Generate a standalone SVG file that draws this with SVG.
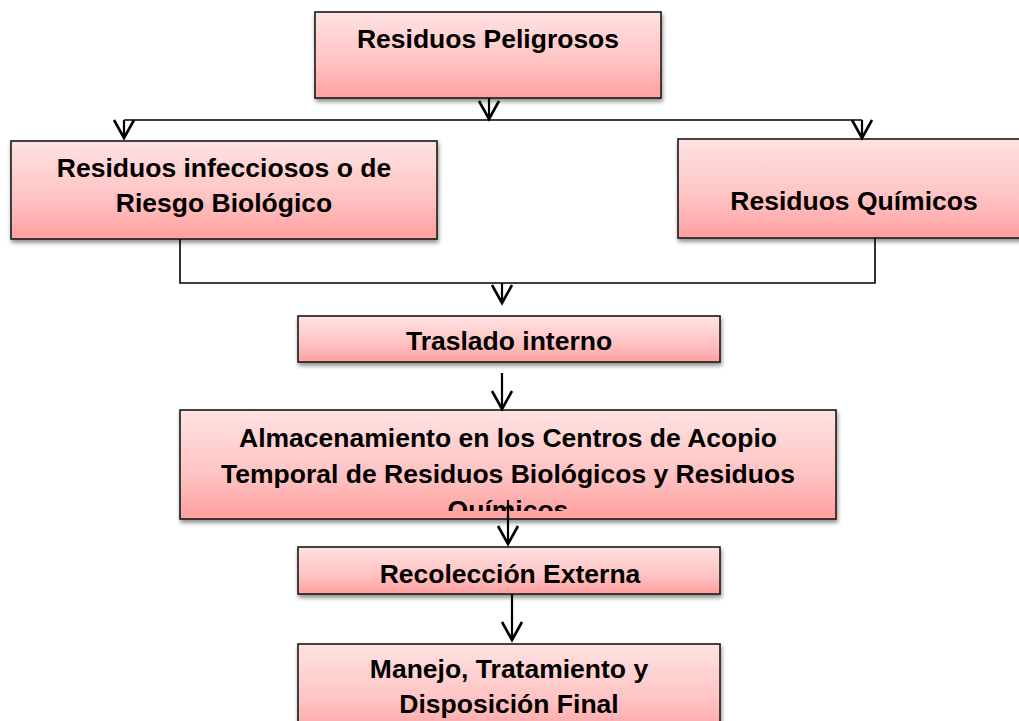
<svg xmlns="http://www.w3.org/2000/svg" width="1019" height="721" viewBox="0 0 1019 721">
  <style>
    .box { fill: url(#pinkGrad); stroke: #1a1a1a; stroke-width: 1.6; filter: url(#shadow); }
    .lbl { font-family: "Liberation Sans", Arial, sans-serif; font-weight: bold; font-size: 26.5px; fill: #000; text-anchor: middle; }
    .conn { fill: none; stroke: #000; stroke-width: 1.6; }
    .arr { fill: none; stroke: #000; stroke-width: 2.2; marker-end: url(#vhead); }
  </style>
  <defs>
    <linearGradient id="pinkGrad" x1="0" y1="0" x2="0" y2="1">
      <stop offset="0" stop-color="#FFE2E2"/>
      <stop offset="0.6" stop-color="#FFC2C2"/>
      <stop offset="1" stop-color="#FF9F9F"/>
    </linearGradient>
    <filter id="shadow" x="-10%" y="-10%" width="130%" height="140%">
      <feGaussianBlur in="SourceAlpha" stdDeviation="2"/>
      <feOffset dx="1" dy="3" result="b"/>
      <feComponentTransfer><feFuncA type="linear" slope="0.45"/></feComponentTransfer>
      <feMerge><feMergeNode/><feMergeNode in="SourceGraphic"/></feMerge>
    </filter>
    <marker id="vhead" markerUnits="userSpaceOnUse" orient="auto" refX="0" refY="0" markerWidth="40" markerHeight="40" overflow="visible">
      <path d="M-18,-10 L0,0 L-18,10" fill="none" stroke="#000" stroke-width="2.6" stroke-linejoin="miter"/>
    </marker>
    <clipPath id="clipAlm">
      <rect x="180" y="410" width="656" height="101"/>
    </clipPath>
  </defs>

  <g id="node-peligrosos">
    <rect class="box" x="315" y="12" width="346" height="86"/>
    <text class="lbl" x="488" y="48">Residuos Peligrosos</text>
  </g>
  <g id="node-infecciosos">
    <rect class="box" x="11" y="141" width="426" height="98"/>
    <text class="lbl" x="224" y="177">Residuos infecciosos o de</text>
    <text class="lbl" x="224" y="212">Riesgo Biológico</text>
  </g>
  <g id="node-quimicos">
    <rect class="box" x="678" y="139" width="345" height="99"/>
    <text class="lbl" x="854" y="210">Residuos Químicos</text>
  </g>
  <g id="node-traslado">
    <rect class="box" x="298" y="316" width="422" height="46"/>
    <text class="lbl" x="509" y="350">Traslado interno</text>
  </g>
  <g id="node-almacenamiento">
    <rect class="box" x="180" y="410" width="656" height="109"/>
    <g clip-path="url(#clipAlm)">
      <text class="lbl" x="508" y="447">Almacenamiento en los Centros de Acopio</text>
      <text class="lbl" x="508" y="483">Temporal de Residuos Biológicos y Residuos</text>
      <text class="lbl" x="508" y="519">Químicos</text>
    </g>
  </g>
  <g id="node-recoleccion">
    <rect class="box" x="298" y="547" width="422" height="47"/>
    <text class="lbl" x="510" y="583">Recolección Externa</text>
  </g>
  <g id="node-manejo">
    <rect class="box" x="298" y="644" width="422" height="95"/>
    <text class="lbl" x="509" y="678">Manejo, Tratamiento y</text>
    <text class="lbl" x="509" y="713">Disposición Final</text>
  </g>

  <g id="connectors">
    <path class="arr" d="M489,98 V119"/>
    <path class="conn" d="M124,120 H862"/>
    <path class="arr" d="M124,120 V138"/>
    <path class="arr" d="M862,120 V138"/>
    <path class="conn" d="M180,239 V283 H875 V238"/>
    <path class="arr" d="M502,283 V303"/>
    <path class="arr" d="M502,373 V409"/>
    <path class="arr" d="M508,500 V544"/>
    <path class="arr" d="M512,594 V640"/>
  </g>
</svg>
